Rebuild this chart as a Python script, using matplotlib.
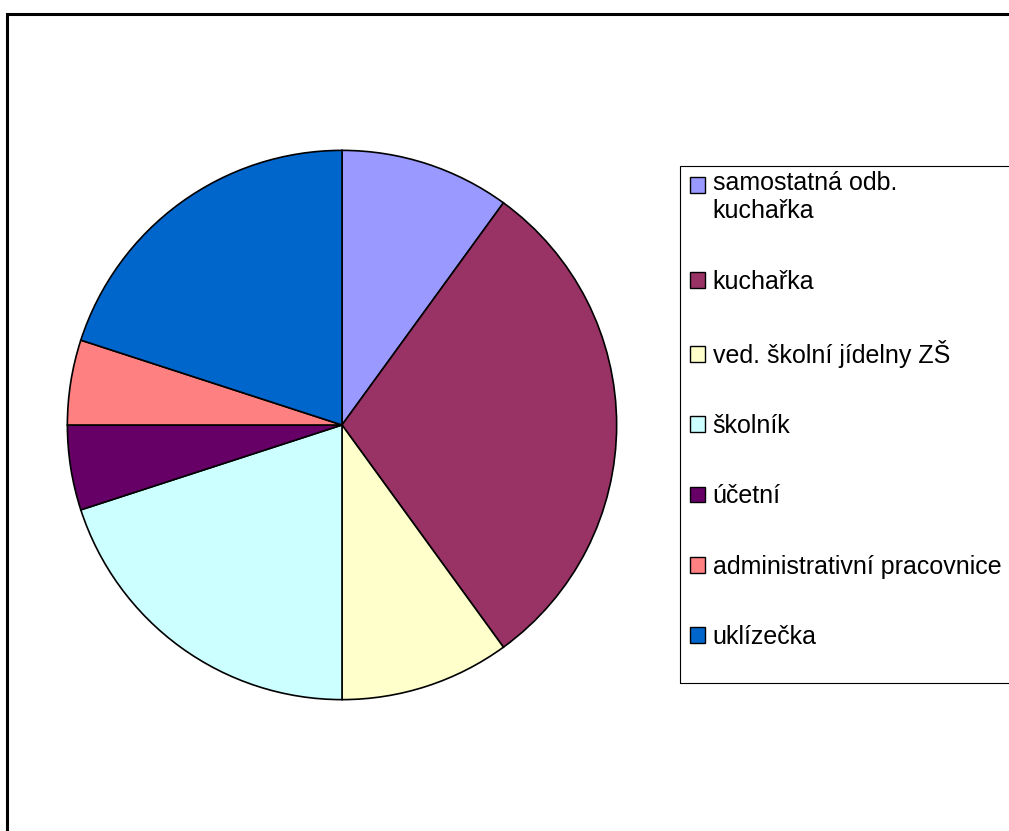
import matplotlib.pyplot as plt
from matplotlib.patches import Rectangle, Patch
from matplotlib.legend_handler import HandlerPatch

# data
labels = ['samostatná odb.\nkuchařka', 'kuchařka', 'ved. školní jídelny ZŠ',
          'školník', 'účetní', 'administrativní pracovnice', 'uklízečka']
values = [10, 30, 10, 20, 5, 5, 20]
colors = ['#9999FF', '#993366', '#FFFFCC', '#CCFFFF', '#660066', '#FF8080', '#0066CC']

plt.rcParams['font.family'] = ['Liberation Sans', 'DejaVu Sans']

W, H = 1009, 831
fig = plt.figure(figsize=(W / 100, H / 100), dpi=100)

# outer chart frame (runs off right and bottom)
fig.patches.append(Rectangle((7 / W, -0.05), 1.1, 1 - 14 / H + 0.05,
                             transform=fig.transFigure, fill=False,
                             edgecolor='black', linewidth=2.2))

# pie
cx, cy, r = 342, 425, 276
ax = fig.add_axes([(cx - r) / W, (H - cy - r) / H, 2 * r / W, 2 * r / H])
ax.pie(values, colors=colors, startangle=90, counterclock=False,
       wedgeprops=dict(edgecolor='black', linewidth=1.2), radius=1)
ax.set_xlim(-1.005, 1.005)
ax.set_ylim(-1.005, 1.005)
ax.set_aspect('equal')
ax.axis('off')

# legend frame
fig.patches.append(Rectangle((680 / W, 1 - 683 / H), 0.4, (683 - 166) / H,
                             transform=fig.transFigure, fill=False,
                             edgecolor='black', linewidth=0.8))


def first_line_square(legend, orig_handle, xdescent, ydescent, width, height, fontsize):
    # square next to the first line of a two-line label
    return Rectangle((-xdescent, -ydescent + 9.7), width, height)


handles = [Patch(facecolor=c, edgecolor='black', linewidth=1.0) for c in colors]
fig.legend(handles, labels, loc='upper left',
           bbox_to_anchor=(672 / W, 1 - 154 / H), frameon=False,
           fontsize=18, handlelength=0.6, handleheight=0.6,
           handletextpad=0.33, labelspacing=1.85, borderpad=0.2,
           handler_map={handles[0]: HandlerPatch(patch_func=first_line_square)})

fig.savefig('out.png', dpi=100)
